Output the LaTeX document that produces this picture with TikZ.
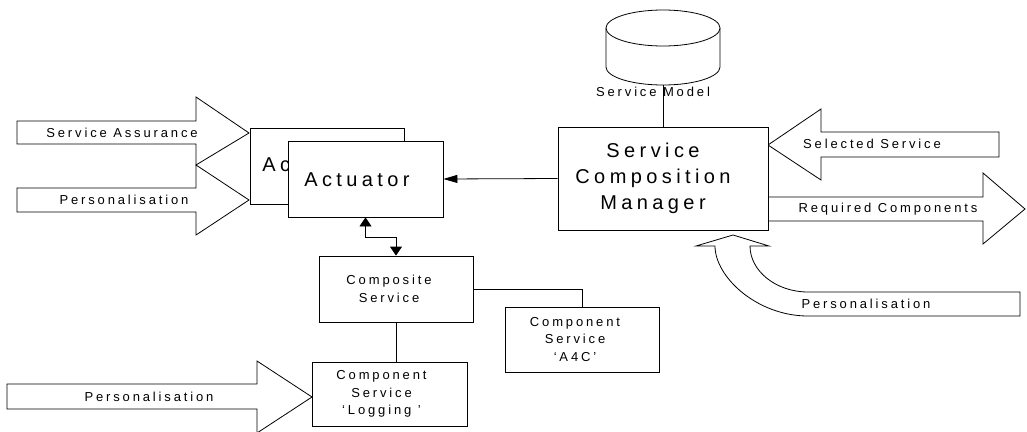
\documentclass[tikz,border=0pt]{standalone}
\usepackage{fontspec}
\setmainfont{Liberation Sans}
\newfontfamily\spc{Liberation Sans}[LetterSpace=22]
\usetikzlibrary{arrows.meta}
\begin{document}
\begin{tikzpicture}[x=1pt,y=-1pt, line width=0.8pt,
  box/.style={draw, fill=white, inner sep=0pt},
  blk/.style={draw, fill=white, line join=miter},
  lbl/.style={font=\spc\fontsize{13}{16}\selectfont, inner sep=0pt},
  big/.style={font=\spc\fontsize{20}{26}\selectfont, inner sep=0pt, align=center},
  mid/.style={font=\spc\fontsize{13}{17.5}\selectfont, inner sep=0pt, align=center},
  bigtip/.style={-{Triangle[width=8pt,length=14pt]}},
  dbltip/.style={{Triangle[width=12pt,length=9pt]}-{Triangle[width=12pt,length=9pt]}}
]
\useasboundingbox (0,0) rectangle (1027,431);

% block arrows on the left
\draw[blk] (17,121) -- (196,121) -- (196,97) -- (249,133) -- (196,165) -- (196,144) -- (17,144) -- cycle;
\node[lbl] (sa) at (122,133) {Service Assurance};
\draw[blk] (17,188) -- (196,188) -- (196,165) -- (249,200) -- (196,235) -- (196,212) -- (17,212) -- cycle;
\node[lbl] (pl) at (124,200) {Personalisation};

% bottom left block arrow
\draw[blk] (7,384) -- (257,384) -- (257,361) -- (312,397) -- (257,433) -- (257,409) -- (7,409) -- cycle;
\node[lbl] (pb) at (149,397) {Personalisation};

% right block arrows
\draw[blk] (999,132) -- (821,132) -- (821,109) -- (768,145) -- (821,180) -- (821,157) -- (999,157) -- cycle;
\node[lbl] (ss) at (872,144) {Selected Service};
\draw[blk] (768,197) -- (983,197) -- (983,173) -- (1025,209) -- (983,244) -- (983,221) -- (768,221) -- cycle;
\node[lbl] (rc) at (888,209) {Required Components};

% curved block arrow
\draw[blk] (733,235) -- (769,246) -- (750,246) .. controls (750,271) and (776,292) .. (808,292) -- (1020,292) -- (1020,316) -- (808,316) .. controls (757,316) and (715,277) .. (715,246) -- (696,246) -- cycle;
\node[lbl] (pc) at (866,304) {Personalisation};

% database cylinder
\draw[fill=white] (606,28) -- (606,67) .. controls (606,76.9) and (631.5,85) .. (663,85) .. controls (694.5,85) and (720,76.9) .. (720,67) -- (720,28);
\draw[fill=white] (663,28) ellipse [x radius=57pt, y radius=18pt];
\coordinate (db) at (663,85);

% boxes
\node[box, minimum width=154pt, minimum height=76pt] (actb) at (327,166) {};
\node[big, anchor=west] (actbt) at (262,165) {Actuator};
\node[box, minimum width=155pt, minimum height=76pt] (act) at (365.5,179) {};
\node[big] (actt) at (357,180) {Actuator};

\node[box, minimum width=210pt, minimum height=103pt] (scm) at (663,178.5) {};
\node[big] (scmt) at ([xshift=-10pt]scm.center) {Service\\Composition\\Manager};

\node[box, minimum width=154pt, minimum height=66pt] (comp) at (396,289) {};
\node[mid] (compt) at ([xshift=-7pt]comp.center) {Composite\\Service};

\node[box, minimum width=154pt, minimum height=65pt] (a4c) at (582,339.5) {};
\node[mid] (a4ct) at ([xshift=-7pt]a4c.center) {Component\\Service\\‘A4C’};

\node[box, minimum width=155pt, minimum height=64pt] (log) at (389.5,394) {};
\node[mid] (logt) at ([xshift=-8pt]log.center) {Component\\Service\\‘Logging ’};

% connectors
\draw[bigtip] (scm.west) -- (act.east);
\coordinate (bend) at (0,237);
\draw[dbltip] (act.south) -- (act.south |- bend) -| (comp.north);
\draw (comp.east) -| (a4c.north);
\draw (comp.south) -- (comp.south |- log.north);
\draw (db) -- (scm.north);
\node[lbl] (smt) at (653,92) {Service Model};
\end{tikzpicture}
\end{document}
